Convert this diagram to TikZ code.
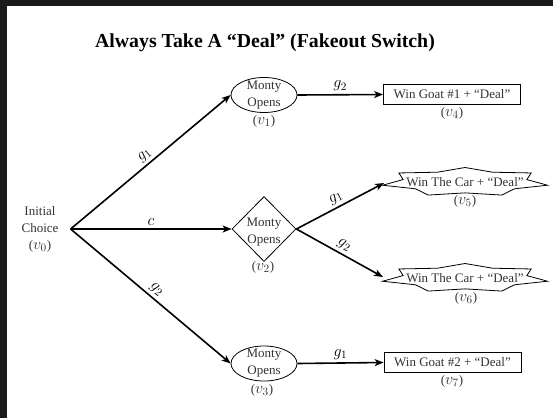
\RequirePackage{fix-cm}
\documentclass[tikz,border=0pt]{standalone}
\usepackage{fontspec}
\setmainfont{Liberation Serif}
\usetikzlibrary{arrows.meta,calc,shapes.geometric}
\definecolor{framegray}{HTML}{1A1A1A}
\definecolor{ink}{HTML}{333333}
\tikzset{
  txt/.style={font=\fontsize{13}{17}\selectfont, text=ink, align=center, inner sep=0pt},
  tag/.style={font=\fontsize{16}{18}\selectfont, text=ink, inner sep=0pt},
  edgelab/.style={font=\fontsize{16}{18}\selectfont, inner sep=3pt},
  flow/.style={line width=1.6pt, -{Stealth[length=9pt,width=7pt,inset=2.5pt]}},
  oval/.style={ellipse, draw, line width=0.8pt, minimum width=66pt, minimum height=35pt, inner sep=0pt},
  rhomb/.style={diamond, draw, line width=0.8pt, minimum width=64pt, minimum height=65pt, inner sep=0pt},
  prize/.style={rectangle, draw, line width=0.8pt, minimum width=137pt, minimum height=20pt, inner sep=0pt, txt},
  starnode/.style={inner sep=0pt, txt},
}
% vertex tag: text parentheses round a math vertex name
\newcommand{\vtag}[1]{{\fontsize{13}{16}\selectfont(}$v_{#1}${\fontsize{13}{16}\selectfont)}}
% seven-pointed star round a node, half-width #2, half-height #3
\newcommand{\starOutline}[3]{%
  \draw[line width=0.8pt, shift={(#1.center)}]
    plot[samples at={0,...,13}, variable=\k]
      ({#2*(1-0.25*mod(\k,2))*cos(90+\k*360/14)},
       {#3*(1-0.25*mod(\k,2))*sin(90+\k*360/14)}) -- cycle;}
\begin{document}
\begin{tikzpicture}[x=1pt,y=1pt]
  \useasboundingbox (0,0) rectangle (553,-418);
  \fill[framegray] (0,0) rectangle (553,-418);
  \fill[white] (7,-6) rectangle (553,-418);

  \node[font=\bfseries\fontsize{19.8}{22}\selectfont, anchor=base] (title) at (265,-47)
    {Always Take A “Deal” (Fakeout Switch)};

  % start
  \node[txt, align=center, inner xsep=12pt] (v0) at (40,-229)
    {Initial\\Choice\\{\fontsize{16}{16}\selectfont\vtag{0}}};

  % Monty's moves
  \node[oval, label={[txt]center:Monty\\Opens}] (v1) at (264,-95) {};
  \node[rhomb, label={[txt, yshift=-3pt]center:Monty\\Opens}] (v2) at (264,-229) {};
  \node[oval, label={[txt]center:Monty\\Opens}] (v3) at (264,-363.5) {};

  % outcomes
  \node[prize] (v4) at (452,-94.5) {Win Goat \#1 + “Deal”};
  \node[starnode] (v5) at (465,-182) {Win The Car + “Deal”};
  \node[starnode] (v6) at (465,-278) {Win The Car + “Deal”};
  \node[prize] (v7) at (452.5,-362.5) {Win Goat \#2 + “Deal”};
  \starOutline{v5}{84.6}{14.5}
  \starOutline{v6}{84.6}{14.5}
  \coordinate (v5in) at ($(v5.center)+(-81,-1)$);
  \coordinate (v6in) at ($(v6.center)+(-82,1)$);

  % vertex tags
  \node[tag] (t1) at (264,-121) {\vtag{1}};
  \node[tag] (t2) at (263,-267) {\vtag{2}};
  \node[tag] (t3) at (262,-390) {\vtag{3}};
  \node[tag] (t4) at (452,-113) {\vtag{4}};
  \node[tag] (t5) at (465,-201) {\vtag{5}};
  \node[tag] (t6) at (466,-298) {\vtag{6}};
  \node[tag] (t7) at (452,-381) {\vtag{7}};

  % moves
  \draw[flow] (v0.east) -- node[edgelab, midway, above, sloped] {$g_1$} (v1.west);
  \draw[flow] (v0.east) -- node[edgelab, midway, above] {$c$} (v2.west);
  \draw[flow] (v0.east) -- node[edgelab, midway, above, sloped] {$g_2$} (v3.west);
  \draw[flow] (v1.east) -- node[edgelab, midway, above] {$g_2$} (v4.west);
  \draw[flow] (v2.east) -- node[edgelab, midway, above, sloped] {$g_1$} (v5in);
  \draw[flow] (v2.east) -- node[edgelab, midway, above, sloped] {$g_2$} (v6in);
  \draw[flow] (v3.east) -- node[edgelab, midway, above] {$g_1$} (v7.west);
\end{tikzpicture}
\end{document}
